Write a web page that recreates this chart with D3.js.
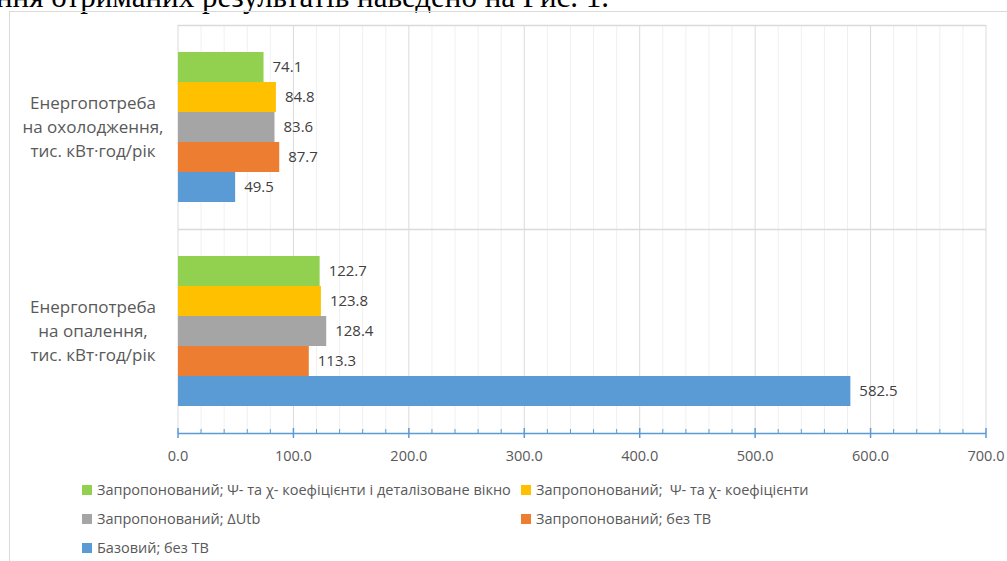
<!DOCTYPE html>
<html>
<head>
<meta charset="utf-8">
<script src="https://cdnjs.cloudflare.com/ajax/libs/d3/7.8.5/d3.min.js"></script>
<style>
    body { margin: 0; background: #fff; }
    svg { display: block; }
    .cat { font-family: 'Open Sans', sans-serif; font-size: 17px; fill: #595959; }
    .val { font-family: 'Open Sans', sans-serif; font-size: 15px; fill: #404040; }
    .tick-lbl { font-family: 'Open Sans', sans-serif; font-size: 14.5px; fill: #595959; }
    .leg { font-family: 'Open Sans', sans-serif; font-size: 14.5px; fill: #595959; }
</style>
</head>
<body>
<svg id="chart" width="1007" height="561"></svg>
<script>
// categories, top to bottom
const categories = ['cooling', 'heating'];
const categoryLabels = [
    ['Енергопотреба', 'на охолодження,', 'тис. кВт·год/рік'],
    ['Енергопотреба', 'на опалення,', 'тис. кВт·год/рік']
];

// series, top of each group first
const seriesNames = [
    'Запропонований; Ψ- та χ- коефіцієнти і деталізоване вікно',
    'Запропонований;  Ψ- та χ- коефіцієнти',
    'Запропонований; ΔUtb',
    'Запропонований; без ТВ',
    'Базовий; без ТВ'
];
const seriesColors = ['#92D050', '#FFC000', '#A5A5A5', '#ED7D31', '#5B9BD5'];

// values per series: [cooling, heating]
const detailedWindow = [74.1, 122.7];
const psiChi = [84.8, 123.8];
const deltaUtb = [83.6, 128.4];
const proposedNoTB = [87.7, 113.3];
const baseNoTB = [49.5, 582.5];
const seriesValues = [detailedWindow, psiChi, deltaUtb, proposedNoTB, baseNoTB];

const xTicks = [0, 100, 200, 300, 400, 500, 600, 700];

const svg = d3.select('#chart');

// page text above the chart, cut off by the crop
svg.append('text')
    .attr('x', -4)
    .attr('y', 7)
    .style('font-family', "'Liberation Serif', serif")
    .style('font-size', '31px')
    .attr('fill', '#000')
    .text('ння отриманих результатів наведено на Рис. 1.');

// chart frame
svg.append('rect')
    .attr('x', 9.5).attr('y', 11.5)
    .attr('width', 1010).attr('height', 560)
    .attr('fill', 'none')
    .attr('stroke', '#D9D9D9');

const x = d3.scaleLinear().domain([0, 700]).range([178, 986]);

const y = d3.scaleBand().domain(categories).range([25, 433]);

// bars sit in the middle of each category band
const inner = d3.scaleBand()
    .domain(d3.range(seriesNames.length))
    .range([27, y.bandwidth() - 27]);

// minor gridlines every 20
svg.append('g').selectAll('line')
    .data(d3.range(20, 700, 20).filter(d => d % 100 !== 0))
    .enter().append('line')
    .attr('x1', d => x(d)).attr('x2', d => x(d))
    .attr('y1', 25).attr('y2', 433)
    .attr('stroke', '#F0F0F0');

// major gridlines
svg.append('g').selectAll('line')
    .data(xTicks)
    .enter().append('line')
    .attr('x1', d => x(d)).attr('x2', d => x(d))
    .attr('y1', 25).attr('y2', 433)
    .attr('stroke', '#DADADA');

// category separators
svg.append('g').selectAll('line')
    .data([25, y('heating')])
    .enter().append('line')
    .attr('x1', x(0)).attr('x2', x(700))
    .attr('y1', d => d + 0.5).attr('y2', d => d + 0.5)
    .attr('stroke', '#DADADA')
    .attr('stroke-width', 1.5);

// bars
const groups = svg.append('g').selectAll('g')
    .data(categories)
    .enter().append('g')
    .attr('transform', d => 'translate(0,' + y(d) + ')');

groups.each(function (cat, ci) {
    const g = d3.select(this);
    const rows = seriesValues.map((vals, si) => ({ si: si, v: vals[ci] }));

    g.selectAll('rect')
        .data(rows)
        .enter().append('rect')
        .attr('x', x(0))
        .attr('y', d => inner(d.si))
        .attr('width', d => x(d.v) - x(0))
        .attr('height', inner.bandwidth())
        .attr('fill', d => seriesColors[d.si]);

    g.selectAll('text.val')
        .data(rows)
        .enter().append('text')
        .attr('class', 'val')
        .attr('x', d => x(d.v) + 9)
        .attr('y', d => inner(d.si) + inner.bandwidth() / 2 + 5)
        .text(d => d.v.toFixed(1));

    // category label
    const lbl = g.append('text')
        .attr('class', 'cat')
        .attr('text-anchor', 'middle');
    lbl.selectAll('tspan')
        .data(categoryLabels[ci])
        .enter().append('tspan')
        .attr('x', 93)
        .attr('y', (d, i) => y.bandwidth() / 2 - 18 + i * 24)
        .text(d => d);
});

// x axis
const axisY = 433;
svg.append('line')
    .attr('x1', x(0)).attr('x2', x(700))
    .attr('y1', axisY + 0.5).attr('y2', axisY + 0.5)
    .attr('stroke', '#5B9BD5')
    .attr('stroke-width', 1.5);

svg.append('g').selectAll('line')
    .data(d3.range(20, 700, 20).filter(d => d % 100 !== 0))
    .enter().append('line')
    .attr('x1', d => x(d)).attr('x2', d => x(d))
    .attr('y1', axisY - 4).attr('y2', axisY)
    .attr('stroke', '#5B9BD5');

svg.append('g').selectAll('line')
    .data(xTicks)
    .enter().append('line')
    .attr('x1', d => x(d)).attr('x2', d => x(d))
    .attr('y1', axisY - 5).attr('y2', axisY + 5)
    .attr('stroke', '#5B9BD5')
    .attr('stroke-width', 1.5);

svg.append('g').selectAll('text')
    .data(xTicks)
    .enter().append('text')
    .attr('class', 'tick-lbl')
    .attr('x', d => x(d))
    .attr('y', 461)
    .attr('text-anchor', 'middle')
    .text(d => d.toFixed(1));

// legend
const legendPos = [
    [82, 490], [521, 490],
    [82, 519], [521, 519],
    [82, 548]
];
const leg = svg.append('g').selectAll('g')
    .data(seriesNames)
    .enter().append('g')
    .attr('transform', (d, i) => 'translate(' + legendPos[i][0] + ',' + legendPos[i][1] + ')');

leg.append('rect')
    .attr('x', 0).attr('y', -5)
    .attr('width', 10).attr('height', 10)
    .attr('fill', (d, i) => seriesColors[i]);

leg.append('text')
    .attr('class', 'leg')
    .attr('x', 15).attr('y', 5)
    .style('white-space', 'pre')
    .text(d => d);
</script>
</body>
</html>
